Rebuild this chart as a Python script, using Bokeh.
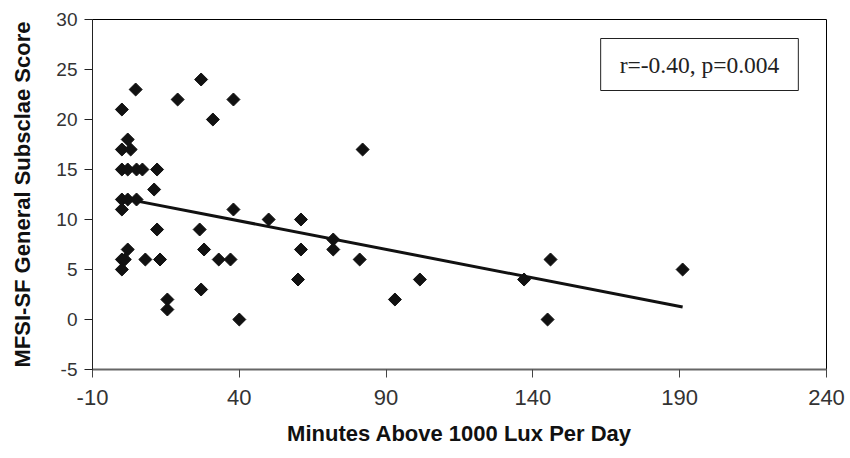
from bokeh.plotting import figure
from bokeh.models import Range1d, FixedTicker, Label
from bokeh.embed import file_html
from bokeh.resources import INLINE
import numpy as np

# Data
minutes = [27, 4.7, 19, 38, 0, 31, 2, 0, 3, 82,
           0, 2, 5, 7, 12, 11, 0, 2, 5, 0, 38,
           50, 61, 12, 26.5, 72, 2, 28, 61, 72,
           0, 1, 8, 13, 33, 37, 81, 146, 0, 191,
           60, 101.5, 137, 27, 15.5, 93, 15.5, 40, 145]
scores = [24, 23, 22, 22, 21, 20, 18, 17, 17, 17,
          15, 15, 15, 15, 15, 13, 12, 12, 12, 11, 11,
          10, 10, 9, 9, 8, 7, 7, 7, 7,
          6, 6, 6, 6, 6, 6, 6, 6, 5, 5,
          4, 4, 4, 3, 2, 2, 1, 0, 0]
trend_intercept = 12.14
trend_slope = -0.057
x_ticks = [-10, 40, 90, 140, 190, 240]
y_ticks = [-5, 0, 5, 10, 15, 20, 25, 30]
stats_text = "r=-0.40, p=0.004"

p = figure(width=846, height=458, output_backend="svg", toolbar_location=None,
           x_range=Range1d(-10, 240), y_range=Range1d(-5, 30),
           min_border_left=92, min_border_right=20, min_border_top=19,
           min_border_bottom=89)

p.xgrid.visible = False
p.ygrid.visible = False
p.outline_line_color = "black"
p.outline_line_width = 1
p.background_fill_color = "white"
p.border_fill_color = "white"

# trend line across data span
tx = np.array([min(minutes), max(minutes)])
ty = trend_intercept + trend_slope * tx
p.line(tx, ty, line_color="#111111", line_width=3)

p.scatter(minutes, scores, marker="square", angle=np.pi / 4, size=9.2,
          fill_color="#111111", line_color="#111111")

# axes
p.xaxis.ticker = FixedTicker(ticks=x_ticks)
p.yaxis.ticker = FixedTicker(ticks=y_ticks)
p.xaxis.major_label_overrides = {t: str(t) for t in x_ticks}
p.yaxis.major_label_overrides = {t: str(t) for t in y_ticks}
for ax in (p.xaxis[0], p.yaxis[0]):
    ax.minor_tick_line_color = None
    ax.major_tick_in = 0
    ax.major_tick_out = 8
    ax.axis_label_text_font = "Liberation Sans"
    ax.axis_label_text_font_style = "bold"
    ax.axis_label_text_font_size = "22px"
    ax.axis_label_text_color = "#111111"
    ax.major_label_text_font = "Liberation Sans"
    ax.major_label_text_color = "#333333"

p.xaxis.axis_label = "Minutes Above 1000 Lux Per Day"
p.yaxis.axis_label = "MFSI-SF General Subsclae Score"
p.xaxis.major_label_text_font_size = "22px"
p.yaxis.major_label_text_font_size = "19px"
p.xaxis.axis_line_color = "#666666"
p.xaxis.axis_line_width = 2
p.xaxis.major_tick_line_color = "#444444"
p.yaxis.axis_line_color = "#222222"
p.yaxis.major_tick_line_color = "#222222"
p.xaxis.major_label_standoff = 12
p.xaxis.axis_label_standoff = 13
p.yaxis.major_label_standoff = 7
p.yaxis.axis_label_standoff = 18

lab = Label(x=607, y=305, x_units="screen", y_units="screen", text=stats_text,
            text_font="Liberation Serif", text_font_size="23.5px", text_color="#222222",
            text_align="center", text_baseline="middle",
            border_line_color="#222222", border_line_width=1,
            background_fill_color="white", padding=(19, 13))
p.add_layout(lab)

open("out.html", "w").write(file_html(p, INLINE))
